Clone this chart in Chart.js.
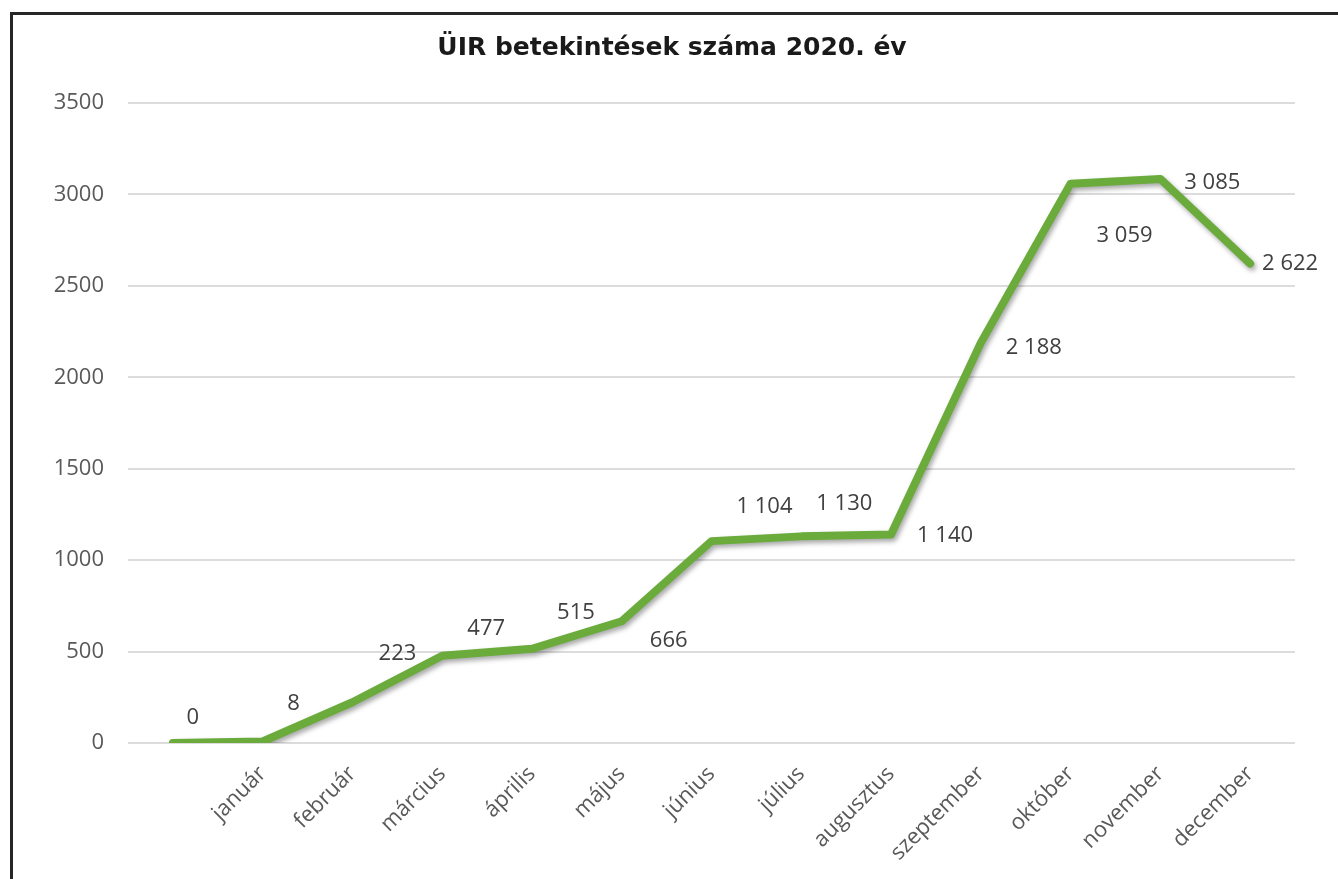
<!DOCTYPE html>
<html>
<head>
<meta charset="utf-8">
<script src="https://cdn.jsdelivr.net/npm/chart.js@4.4.1/dist/chart.umd.min.js"></script>
<style>
  html, body { margin:0; padding:0; background:#fff; overflow:hidden; }
  #wrap { position:relative; width:1338px; height:879px; }
  #frame { position:absolute; left:10px; top:12px; width:1340px; height:900px; border-left:3px solid #262626; border-top:3px solid #262626; }
  canvas { position:absolute; left:0; top:0; }
</style>
</head>
<body>
<div id="wrap">
  <div id="frame"></div>
  <canvas id="myChart" width="1338" height="879"></canvas>
</div>
<script>
// adatok
const honapok = ['', 'január', 'február', 'március', 'április', 'május', 'június',
  'július', 'augusztus', 'szeptember', 'október', 'november', 'december'];
const betekintesek = [0, 8, 223, 477, 515, 666, 1104, 1130, 1140, 2188, 3059, 3085, 2622];
const yMin = 0;
const yMax = 3500;
const yStep = 500;

function szamFormat(v) {
  return String(v).replace(/\B(?=(\d{3})+(?!\d))/g, ' ');
}

// shadow under the line, like the excel one
const arnyek = {
  id: 'arnyek',
  beforeDatasetsDraw(chart) {
    const c = chart.ctx;
    c.save();
    c.shadowColor = 'rgba(0,0,0,0.35)';
    c.shadowBlur = 5;
    c.shadowOffsetX = 2;
    c.shadowOffsetY = 3;
  },
  afterDatasetsDraw(chart) {
    chart.ctx.restore();
  }
};

// value labels next to the points
const cimkek = {
  id: 'cimkek',
  afterDatasetsDraw(chart, args, opts) {
    const c = chart.ctx;
    const pts = chart.getDatasetMeta(0).data;
    c.save();
    c.font = opts.font;
    c.fillStyle = opts.color;
    c.textAlign = 'center';
    c.textBaseline = 'middle';
    pts.forEach((p, i) => {
      const off = opts.offsets[i] || [0, -20];
      c.fillText(szamFormat(chart.data.datasets[0].data[i]), p.x + off[0], p.y + off[1]);
    });
    c.restore();
  }
};

const ctx = document.getElementById('myChart');

new Chart(ctx, {
  type: 'line',
  data: {
    labels: honapok,
    datasets: [{
      label: 'betekintések',
      data: betekintesek,
      borderColor: '#6aab3c',
      borderWidth: 8,
      borderJoinStyle: 'round',
      borderCapStyle: 'round',
      pointRadius: 0,
      tension: 0,
      fill: false
    }]
  },
  options: {
    responsive: false,
    animation: false,
    devicePixelRatio: 1,
    layout: {
      padding: { left: 49, right: 43, top: 0, bottom: 0 }
    },
    scales: {
      x: {
        offset: true,
        grid: { display: false },
        border: { display: false },
        afterFit(scale) { scale.height = 136; },
        ticks: {
          color: '#595959',
          font: { family: 'Open Sans', size: 22 },
          minRotation: 45,
          maxRotation: 45,
          autoSkip: false,
          padding: 10
        }
      },
      y: {
        min: yMin,
        max: yMax,
        border: { display: false },
        grid: { color: '#dcdcdc', lineWidth: 2, drawTicks: false },
        afterFit(scale) { scale.width = 79; },
        ticks: {
          stepSize: yStep,
          color: '#595959',
          font: { family: 'Open Sans', size: 22 },
          padding: 24,
          callback: (v) => String(v)
        }
      }
    },
    plugins: {
      legend: false,
      tooltip: { enabled: false },
      title: {
        display: true,
        text: 'ÜIR betekintések száma 2020. év',
        color: '#1a1a1a',
        font: { family: 'DejaVu Sans', size: 25, weight: 'bold' },
        padding: { top: 33, bottom: 40 }
      },
      cimkek: {
        font: '22px "Open Sans"',
        color: '#404040',
        offsets: [[20, -25], [31, -38], [45, -48], [44, -27], [44, -36], [47, 20],
          [53, -34], [43, -33], [54, 1], [53, 5], [54, 52], [52, 4], [40, 0]]
      }
    }
  },
  plugins: [arnyek, cimkek]
});
</script>
</body>
</html>
